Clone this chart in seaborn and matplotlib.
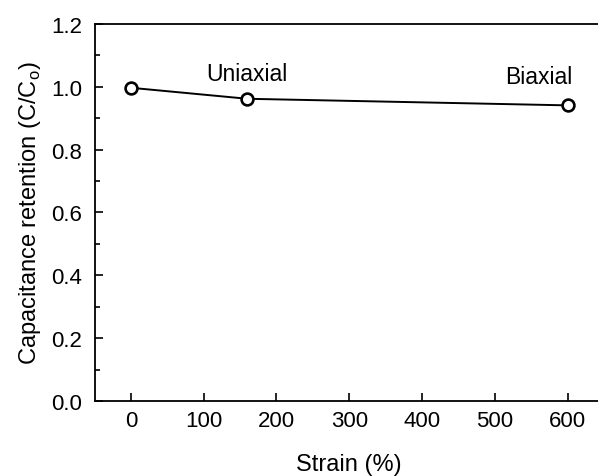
import matplotlib
matplotlib.use("Agg")
import matplotlib.pyplot as plt
import seaborn as sns
import pandas as pd
from matplotlib.ticker import MultipleLocator

# data
strain = [0, 160, 600]
retention = [0.997, 0.962, 0.941]
labels = ["Uniaxial", "Biaxial"]

df = pd.DataFrame({"strain": strain, "retention": retention})

sns.set_theme(style="ticks")
plt.rcParams["font.family"] = ["Liberation Sans", "DejaVu Sans"]
plt.rcParams["text.color"] = "black"
plt.rcParams["axes.labelcolor"] = "black"

fig = plt.figure(figsize=(5.98, 4.77), dpi=100)
ax = fig.add_axes([94.5 / 598, 1 - 402 / 477, (604 - 94.5) / 598, (402 - 25) / 477])

sns.lineplot(data=df, x="strain", y="retention", ax=ax, color="black",
             linewidth=1.4, marker="o", markersize=8.5,
             markerfacecolor="white", markeredgecolor="black",
             markeredgewidth=1.9)

ax.text(160, 1.041, labels[0], ha="center", va="center", fontsize=16.5)
ax.text(607, 1.032, labels[1], ha="right", va="center", fontsize=16.5)

ax.set_xlim(-50, 650)
ax.set_ylim(0, 1.2)
ax.set_xticks([0, 100, 200, 300, 400, 500, 600])
ax.yaxis.set_major_locator(MultipleLocator(0.2))
ax.yaxis.set_minor_locator(MultipleLocator(0.1))
ax.yaxis.set_major_formatter(matplotlib.ticker.FormatStrFormatter("%.1f"))

ax.tick_params(which="both", direction="in", top=False, right=False,
               width=1.2, colors="black", labelsize=16)
ax.tick_params(which="major", length=6)
ax.tick_params(which="minor", length=3.5)
ax.tick_params(axis="x", which="major", pad=6.5)
ax.tick_params(axis="y", which="major", pad=9)

for s in ax.spines.values():
    s.set_linewidth(1.3)
    s.set_color("black")

ax.set_xlabel("Strain (%)", fontsize=17, labelpad=16)
ax.set_ylabel("Capacitance retention (C/C$_\\mathregular{o}$)", fontsize=17, labelpad=6)

fig.savefig("out.png", dpi=100)
